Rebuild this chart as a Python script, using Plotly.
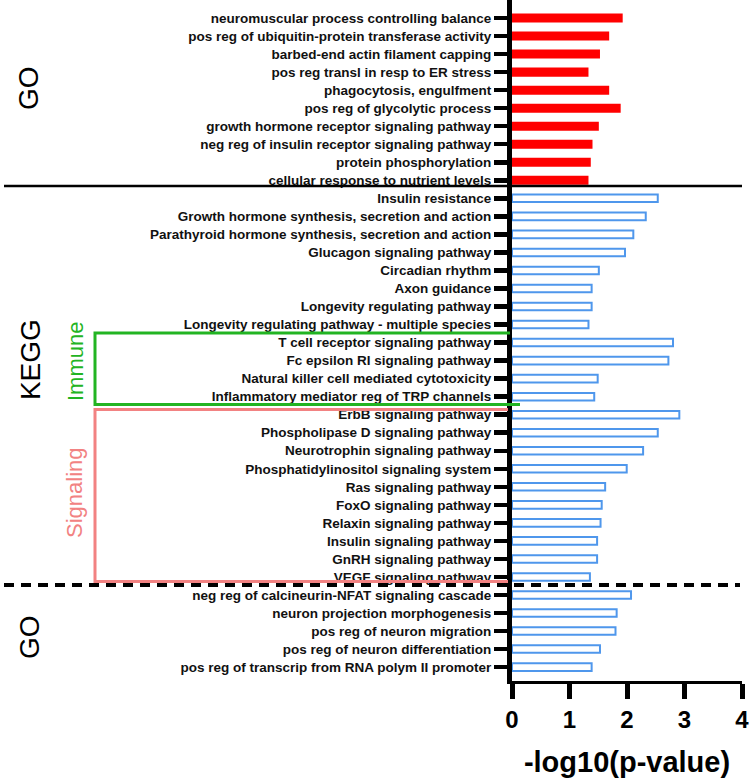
import plotly.graph_objects as go

# ---------------- data ----------------
go_top_terms = [
    "neuromuscular process controlling balance",
    "pos reg of ubiquitin-protein transferase activity",
    "barbed-end actin filament capping",
    "pos reg transl in resp to ER stress",
    "phagocytosis, engulfment",
    "pos reg of glycolytic process",
    "growth hormone receptor signaling pathway",
    "neg reg of insulin receptor signaling pathway",
    "protein phosphorylation",
    "cellular response to nutrient levels",
]
go_top_values = [1.925, 1.69, 1.53, 1.33, 1.69, 1.89, 1.51, 1.40, 1.37, 1.33]

kegg_terms = [
    "Insulin resistance",
    "Growth hormone synthesis, secretion and action",
    "Parathyroid hormone synthesis, secretion and action",
    "Glucagon signaling pathway",
    "Circadian rhythm",
    "Axon guidance",
    "Longevity regulating pathway",
    "Longevity regulating pathway - multiple species",
    "T cell receptor signaling pathway",
    "Fc epsilon RI signaling pathway",
    "Natural killer cell mediated cytotoxicity",
    "Inflammatory mediator reg of TRP channels",
    "ErbB signaling pathway",
    "Phospholipase D signaling pathway",
    "Neurotrophin signaling pathway",
    "Phosphatidylinositol signaling system",
    "Ras signaling pathway",
    "FoxO signaling pathway",
    "Relaxin signaling pathway",
    "Insulin signaling pathway",
    "GnRH signaling pathway",
    "VEGF signaling pathway",
]
kegg_values = [2.535, 2.326, 2.11, 1.965, 1.51, 1.385, 1.385, 1.33,
               2.80, 2.72, 1.49, 1.43,
               2.91, 2.535, 2.28, 1.995, 1.62, 1.56, 1.54, 1.48, 1.48, 1.355]

go_bottom_terms = [
    "neg reg of calcineurin-NFAT signaling cascade",
    "neuron projection morphogenesis",
    "pos reg of neuron migration",
    "pos reg of neuron differentiation",
    "pos reg of transcrip from RNA polym II promoter",
]
go_bottom_values = [2.07, 1.82, 1.80, 1.53, 1.385]

x_ticks = [0, 1, 2, 3, 4]
x_title = "-log10(p-value)"

# ---------------- positions ----------------
all_terms = go_top_terms + kegg_terms + go_bottom_terms
pos = {t: i for i, t in enumerate(all_terms)}
y_top = [pos[t] for t in go_top_terms]
y_kegg = [pos[t] for t in kegg_terms]
y_bot = [pos[t] for t in go_bottom_terms]

FONT = "Liberation Sans, Arial, Helvetica, sans-serif"
RED = "#ff0000"
BLUE = "#4f97ec"
GREEN = "#22b422"
PINK = "#f28282"

fig = go.Figure()
fig.add_trace(go.Bar(y=y_top, x=go_top_values, orientation="h", width=0.5,
                     marker=dict(color=RED, line=dict(width=0)), showlegend=False,
                     hoverinfo="skip"))
fig.add_trace(go.Bar(y=y_kegg, x=kegg_values, orientation="h", width=0.42,
                     marker=dict(color="white", line=dict(color=BLUE, width=2)), showlegend=False,
                     hoverinfo="skip"))
fig.add_trace(go.Bar(y=y_bot, x=go_bottom_values, orientation="h", width=0.42,
                     marker=dict(color="white", line=dict(color=BLUE, width=2)), showlegend=False,
                     hoverinfo="skip"))

n = len(all_terms)
left_px = 512
plot_w = 230
def px2paper(px):
    return (px - left_px) / plot_w

shapes = []
# solid separator GO / KEGG
shapes.append(dict(type="line", xref="paper", yref="y", x0=px2paper(4), x1=px2paper(742),
                   y0=9.32, y1=9.32, line=dict(color="black", width=2.5)))
# dashed separator KEGG / GO
shapes.append(dict(type="line", xref="paper", yref="y", x0=px2paper(4), x1=px2paper(740),
                   y0=31.45, y1=31.45, line=dict(color="black", width=4, dash="10px,7px")))
# Immune box
shapes.append(dict(type="path", xref="paper", yref="y",
                   path=f"M {px2paper(510)},17.47 L {px2paper(95)},17.47 L {px2paper(95)},21.44 L {px2paper(520)},21.44",
                   line=dict(color=GREEN, width=3)))
# Signaling box
shapes.append(dict(type="path", xref="paper", yref="y",
                   path=f"M {px2paper(508)},21.71 L {px2paper(95)},21.71 L {px2paper(95)},31.25 L {px2paper(508)},31.25",
                   line=dict(color=PINK, width=3)))

def side_label(text, xpx, yv, size, color):
    return dict(text=text, x=px2paper(xpx), y=yv, xref="paper", yref="y", textangle=-90,
                xanchor="center", yanchor="middle", showarrow=False,
                font=dict(size=size, color=color, family=FONT))

annotations = [
    side_label("GO", 29, 3.88, 28, "black"),
    side_label("KEGG", 30, 18.97, 28, "black"),
    side_label("GO", 29, 34.33, 28, "black"),
    side_label("Immune", 75, 19.08, 22, GREEN),
    side_label("Signaling", 75, 26.34, 22, PINK),
]

fig.update_layout(
    width=750, height=778,
    margin=dict(l=left_px, r=750 - left_px - plot_w, t=0, b=97),
    plot_bgcolor="white", paper_bgcolor="white",
    bargap=0.5, hovermode=False,
    shapes=shapes, annotations=annotations,
    font=dict(family=FONT, color="black"),
)
fig.update_yaxes(
    range=[36.77, -1.0], tickmode="array", tickvals=list(range(n)), ticktext=all_terms,
    showline=True, linewidth=5, linecolor="black", ticks="outside", ticklen=13,
    tickwidth=4.5, tickcolor="black", showgrid=False, zeroline=False,
    tickfont=dict(size=13.5, family=FONT, color="#111", weight="bold"),
)
fig.update_xaxes(
    range=[0, 4], tickmode="array", tickvals=x_ticks, ticktext=[str(v) for v in x_ticks],
    showline=True, linewidth=3, linecolor="black", ticks="outside", ticklen=15,
    tickwidth=5, tickcolor="black", showgrid=False, zeroline=False,
    tickfont=dict(size=24, family=FONT, color="black", weight="bold"),
    title=dict(text=x_title, font=dict(size=29, family=FONT, color="black", weight="bold"), standoff=22),
)

fig.write_html("out.html", config={"displayModeBar": False, "staticPlot": True},
               post_script="document.body.style.margin='0';")
